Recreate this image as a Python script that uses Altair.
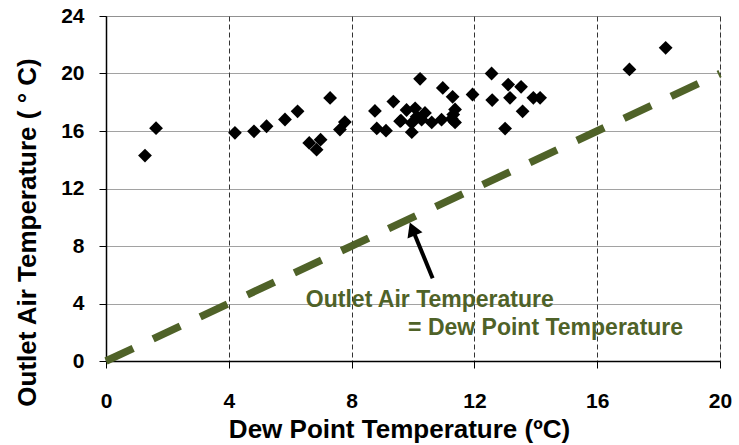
import altair as alt
import pandas as pd

# Measured data: dew point (x) vs outlet air temperature (y)
dew_point = [1.27, 1.63, 4.20, 4.82, 5.23, 5.83, 6.24, 7.30, 6.62, 6.99, 6.86, 7.62, 7.78,
             8.76, 9.36, 8.82, 9.12, 9.61, 9.79, 10.07, 9.96, 9.96, 10.23, 10.39, 10.28,
             10.61, 10.97, 10.93, 11.29, 11.37, 11.31, 11.26, 11.94, 12.56, 12.58, 13.10,
             13.16, 13.52, 13.57, 13.00, 13.92, 14.14, 17.05, 18.23, 10.12, 11.37, 9.58]
outlet_temp = [14.29, 16.20, 15.87, 15.98, 16.33, 16.80, 17.37, 18.30, 15.17, 15.40, 14.70, 16.10, 16.62,
               17.40, 18.05, 16.18, 16.02, 16.72, 17.46, 17.58, 15.92, 16.56, 19.63, 17.26, 16.79,
               16.60, 19.00, 16.79, 18.38, 17.50, 17.14, 16.85, 18.54, 20.00, 18.15, 19.23,
               18.31, 19.07, 17.37, 16.17, 18.31, 18.31, 20.28, 21.79, 17.00, 16.60, 16.68]

line_x = [0, 20]
line_y = [0, 20]

arrow_tail_x = [10.64]
arrow_tail_y = [5.76]
arrow_head_x = [9.98]
arrow_head_y = [9.19]

label_lines = ["Outlet Air Temperature", "= Dew Point Temperature"]
label_x = [6.51, 9.84]
label_y = [3.78, 1.81]

GREEN = "#4F6228"
FONT = "Liberation Sans"

pts = pd.DataFrame({"x": dew_point, "y": outlet_temp})
line_df = pd.DataFrame({"x": line_x, "y": line_y})
arrow_df = pd.DataFrame({"x": arrow_tail_x, "y": arrow_tail_y, "x2": arrow_head_x, "y2": arrow_head_y})
label_df = pd.DataFrame({"t": label_lines, "x": label_x, "y": label_y})

xscale = alt.Scale(domain=[0, 20], nice=False, zero=False)
yscale = alt.Scale(domain=[0, 24], nice=False, zero=False)

xaxis = alt.Axis(title="Dew Point Temperature (ºC)", values=[0, 4, 8, 12, 16, 20],
                 gridDash=[5, 3], gridColor="#333333", gridWidth=1,
                 labelFontSize=21, labelFontWeight="bold", labelColor="black", labelFont=FONT,
                 titleFontSize=26, titleFontWeight="bold", titleColor="black", titleFont=FONT,
                 labelPadding=22, tickSize=7, tickColor="black", labelFlush=False,
                 titleBaseline="alphabetic", titleY=76, titleX=293,
                 domainColor="black", domainWidth=1.5)
yaxis = alt.Axis(title="Outlet Air Temperature ( ° C)", values=[0, 4, 8, 12, 16, 20, 24],
                 gridDash=[1, 1], gridColor="#444444", gridWidth=1,
                 labelFontSize=21, labelFontWeight="bold", labelColor="black", labelFont=FONT,
                 titleFontSize=26, titleFontWeight="bold", titleColor="black", titleFont=FONT,
                 labelPadding=15, tickSize=7, tickColor="black", labelFlush=False,
                 titleBaseline="alphabetic", titleX=-71, titleY=216, titleAngle=270,
                 domainColor="black", domainWidth=1.5)

scatter = alt.Chart(pts).mark_point(shape="diamond", filled=True, color="black",
                                    size=190, opacity=1).encode(
    x=alt.X("x:Q", scale=xscale, axis=xaxis),
    y=alt.Y("y:Q", scale=yscale, axis=yaxis),
)

line = alt.Chart(line_df).mark_line(color=GREEN, strokeWidth=7.5, strokeDash=[30, 22],
                                    strokeCap="butt").encode(
    x=alt.X("x:Q", scale=xscale), y=alt.Y("y:Q", scale=yscale)
)

arrow = alt.Chart(arrow_df).mark_rule(color="black", strokeWidth=4).encode(
    x=alt.X("x:Q", scale=xscale), y=alt.Y("y:Q", scale=yscale),
    x2="x2:Q", y2="y2:Q"
)

head = alt.Chart(arrow_df).mark_point(shape="triangle-up", filled=True, color="black",
                                      size=260, opacity=1, angle=338).encode(
    x=alt.X("x2:Q", scale=xscale), y=alt.Y("y2:Q", scale=yscale)
)

labels = alt.Chart(label_df).mark_text(align="left", baseline="alphabetic", fontSize=23,
                                       fontWeight="bold", color=GREEN, font=FONT).encode(
    x=alt.X("x:Q", scale=xscale), y=alt.Y("y:Q", scale=yscale), text="t:N"
)

chart = alt.layer(line, scatter, arrow, head, labels).properties(
    width=614, height=345,
    autosize=alt.AutoSizeParams(type="none"),
    padding={"left": 106, "top": 16, "right": 19, "bottom": 84},
).configure_view(stroke="#888888", strokeWidth=2).configure(background="white")

chart.save("out.html", embed_options={"renderer": "svg", "actions": False})
